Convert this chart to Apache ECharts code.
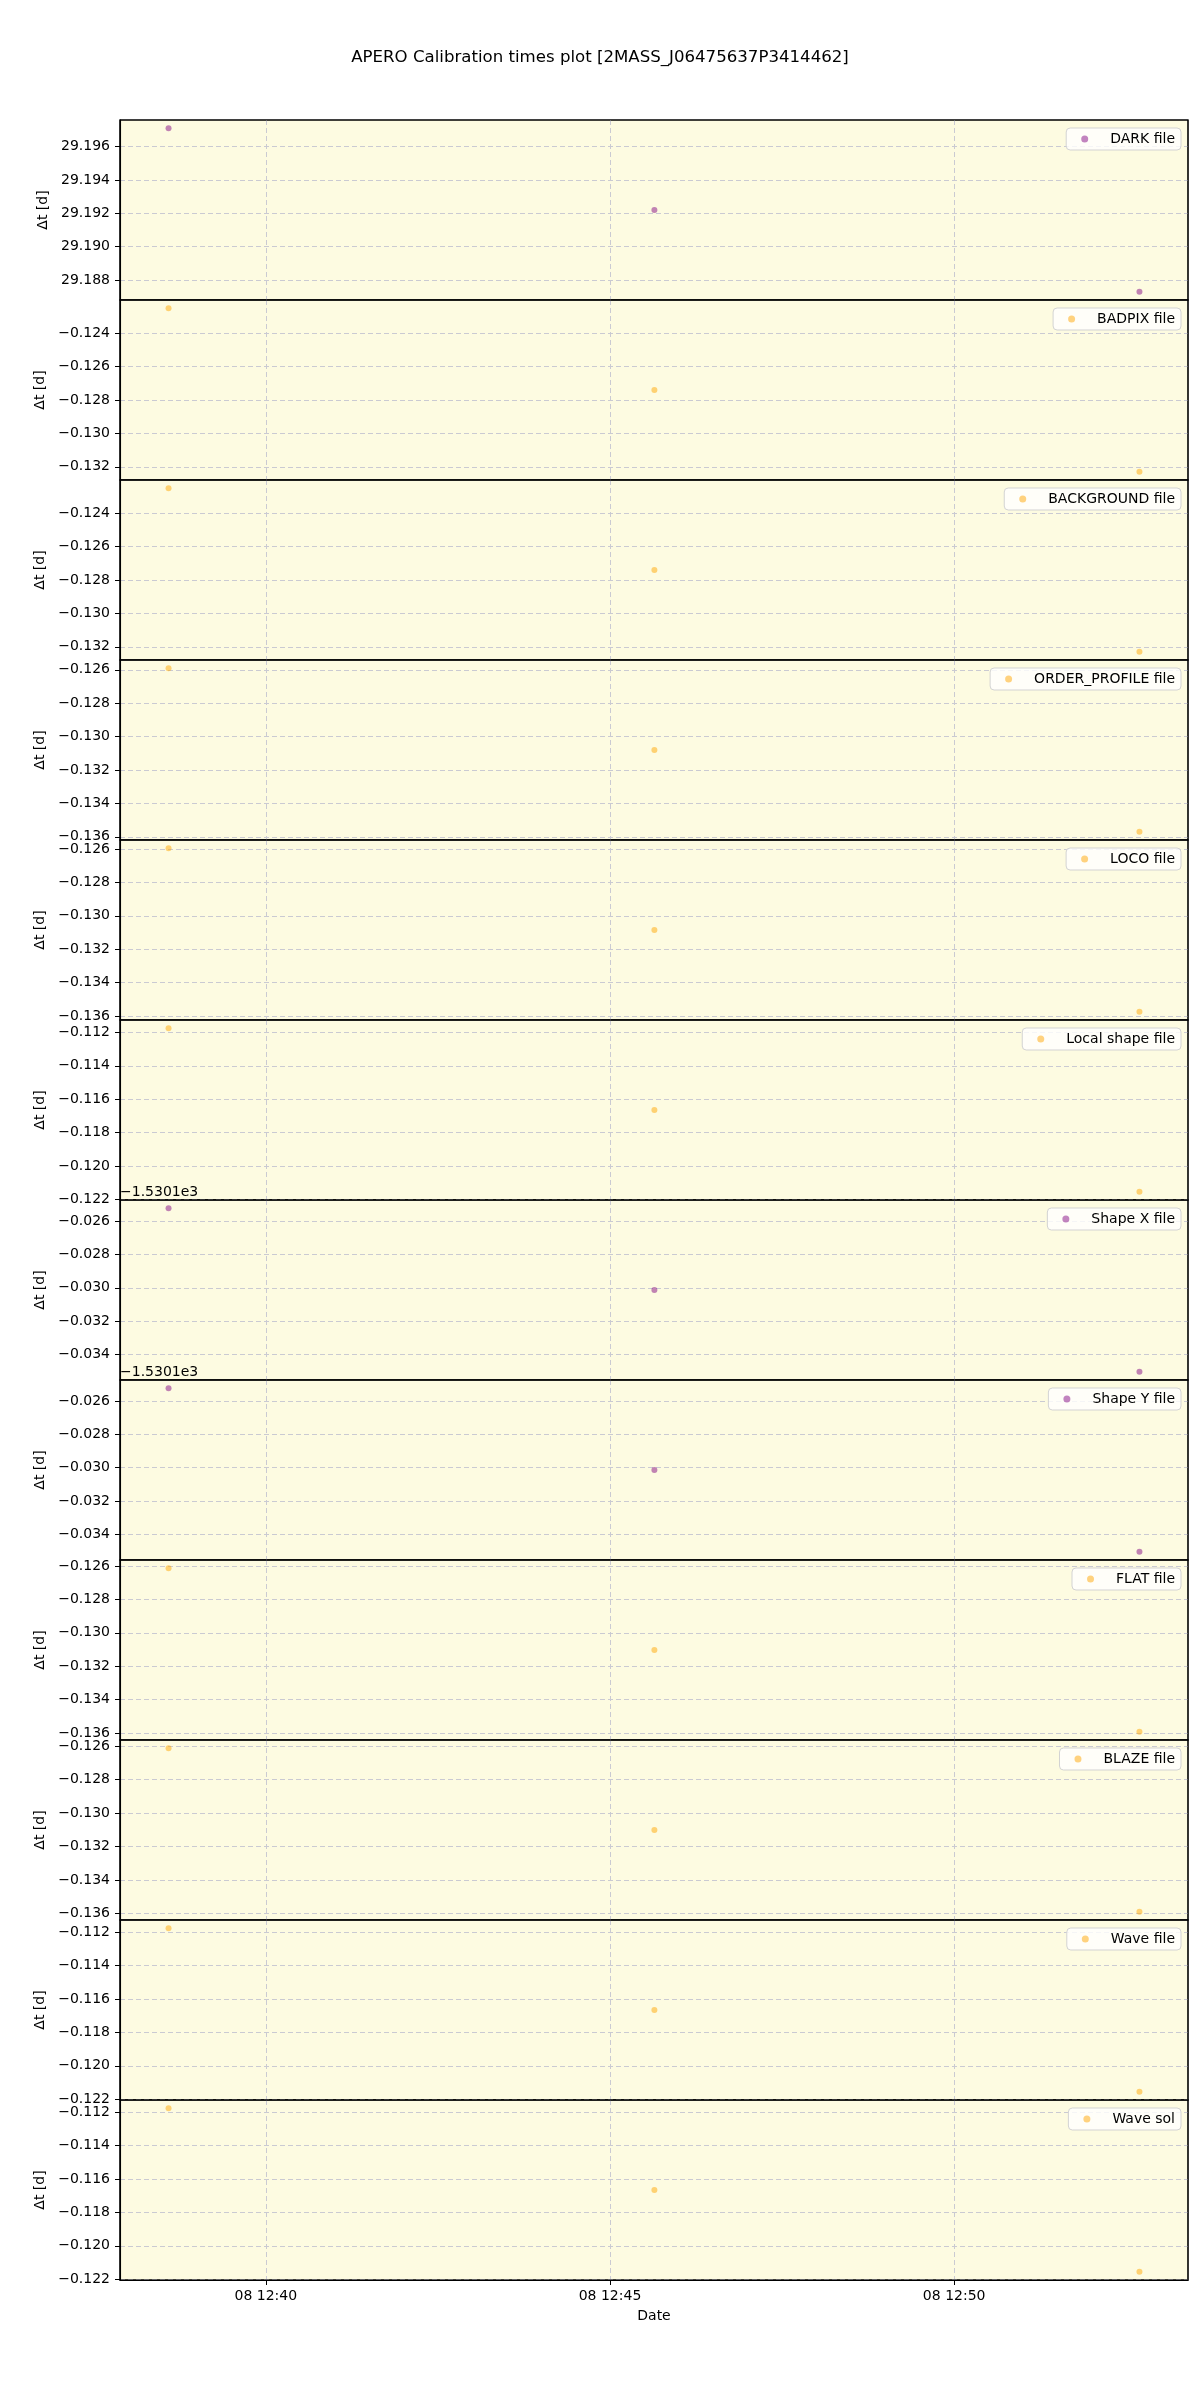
<!DOCTYPE html>
<html>
<head>
<meta charset="utf-8">
<script src="https://cdn.jsdelivr.net/npm/echarts@6/dist/echarts.min.js"></script>
<style>
html,body{margin:0;padding:0;background:#fff;}
#chart{width:1200px;height:2400px;}
</style>
</head>
<body>
<div id="chart"></div>
<script>
// ---- data ----
const times = ['2020-01-08T12:38:35.2Z', '2020-01-08T12:45:38.7Z', '2020-01-08T12:52:41.5Z'];
const panelNames = ['DARK file', 'BADPIX file', 'BACKGROUND file', 'ORDER_PROFILE file', 'LOCO file',
  'Local shape file', 'Shape X file', 'Shape Y file', 'FLAT file', 'BLAZE file', 'Wave file', 'Wave sol'];
const darkFile = [29.1971, 29.1922, 29.1873];
const badpixFile = [-0.1225, -0.1274, -0.1323];
const backgroundFile = [-0.1225, -0.1274, -0.1323];
const orderProfileFile = [-0.1259, -0.1308, -0.1357];
const locoFile = [-0.12595, -0.13085, -0.13575];
const localShapeFile = [-0.11175, -0.11665, -0.12155];
const shapeXFile = [-1530.12523, -1530.13013, -1530.13503];
const shapeYFile = [-1530.12524, -1530.13014, -1530.13504];
const flatFile = [-0.12613, -0.13103, -0.13593];
const blazeFile = [-0.12611, -0.13101, -0.13591];
const waveFile = [-0.11176, -0.11666, -0.12156];
const waveSol = [-0.11176, -0.11666, -0.12156];
const panelValues = [darkFile, badpixFile, backgroundFile, orderProfileFile, locoFile, localShapeFile,
  shapeXFile, shapeYFile, flatFile, blazeFile, waveFile, waveSol];
// axis offset shown as matplotlib offset text (0 = none)
const axisOffsets = [0, 0, 0, 0, 0, 0, -1530.1, -1530.1, 0, 0, 0, 0];
const offsetLabels = ['', '', '', '', '', '', '−1.5301e3', '−1.5301e3', '', '', '', ''];
const yTickStep = 0.002;
const xTickStepMs = 300000;
const markerKinds = ['purple', 'orange', 'orange', 'orange', 'orange', 'orange', 'purple', 'purple', 'orange', 'orange', 'orange', 'orange'];
const titleText = 'APERO Calibration times plot [2MASS_J06475637P3414462]';

// ---- layout / style ----
const FONT = 'DejaVu Sans';
const PLOT_LEFT = 120, PLOT_RIGHT = 12, PLOT_TOP = 120, PANEL_H = 180, CHART_W = 1200;
const COLORS = {purple: 'rgba(128,0,128,0.6)', orange: 'rgba(255,165,0,0.62)'};
const BG = 'rgb(253,251,225)';
const GRIDLINE = {show: true, lineStyle: {color: '#cacad2', width: 1, type: [5, 3]}};

const tms = times.map(t => Date.parse(t));
function padExtent(arr) {
  const lo = Math.min(...arr), hi = Math.max(...arr), m = (hi - lo) * 0.05;
  return [lo - m, hi + m];
}
function innerTicks(ext, step) {
  const out = [];
  for (let k = Math.ceil(ext[0] / step); k <= Math.floor(ext[1] / step); k++) out.push(+(k * step).toFixed(6));
  return out;
}
const xExt = padExtent(tms);
const xTicks = innerTicks(xExt, xTickStepMs);
const n = panelNames.length;
function two(v) { return (v < 10 ? '0' : '') + v; }

const grids = [], xAxes = [], yAxes = [], series = [], legends = [], graphics = [];
for (let i = 0; i < n; i++) {
  const top = PLOT_TOP + PANEL_H * i;
  const last = i === n - 1;
  grids.push({left: PLOT_LEFT, right: PLOT_RIGHT, top: top, height: PANEL_H, show: true,
    backgroundColor: BG, borderColor: '#000', borderWidth: 1.1, containLabel: false});
  xAxes.push({
    type: 'value', gridIndex: i, min: xExt[0], max: xExt[1], splitNumber: 3,
    axisLine: {show: last, lineStyle: {color: '#000', width: 1.1}},
    axisTick: {show: last, length: 5, lineStyle: {color: '#000'}, customValues: xTicks},
    splitLine: GRIDLINE,
    axisLabel: {show: last, margin: 9, color: '#000', fontSize: 14, fontFamily: FONT,
      customValues: xTicks,
      formatter: v => { const d = new Date(v); return two(d.getUTCDate()) + ' ' + two(d.getUTCHours()) + ':' + two(d.getUTCMinutes()); }},
    name: last ? 'Date' : '', nameLocation: 'middle', nameGap: 29,
    nameTextStyle: {color: '#000', fontSize: 14, fontFamily: FONT}
  });
  const yExt = padExtent(panelValues[i]);
  const yTicks = innerTicks(yExt, yTickStep);
  const off = axisOffsets[i];
  yAxes.push({
    type: 'value', gridIndex: i, min: yExt[0], max: yExt[1], splitNumber: 5,
    axisLine: {show: true, lineStyle: {color: '#000', width: 1.1}},
    axisTick: {show: true, length: 5, lineStyle: {color: '#000'}, customValues: yTicks},
    splitLine: GRIDLINE,
    axisLabel: {margin: 10, color: '#000', fontSize: 14, fontFamily: FONT,
      customValues: yTicks,
      formatter: v => (v - off).toFixed(3).replace('-', '−')},
    name: 'Δt [d]', nameLocation: 'middle', nameGap: 66,
    nameTextStyle: {color: '#000', fontSize: 14, fontFamily: FONT}
  });
  series.push({
    type: 'scatter', name: panelNames[i], xAxisIndex: i, yAxisIndex: i,
    symbol: 'circle', symbolSize: 6,
    itemStyle: {color: COLORS[markerKinds[i]]},
    data: tms.map((t, k) => [t, panelValues[i][k]]),
    silent: true
  });
  legends.push({
    data: [panelNames[i]], right: 19, top: top + 8, orient: 'horizontal',
    icon: 'circle', itemWidth: 7, itemHeight: 7, selectedMode: false,
    backgroundColor: 'rgba(255,255,255,0.8)', borderColor: '#d3d3d3', borderWidth: 1, borderRadius: 4,
    padding: [4, 6, 4, 15],
    textStyle: {color: '#000', fontSize: 14, fontFamily: FONT, padding: [0, 0, 0, 17]}
  });
  // solid panel frame drawn above the dashed grid lines
  graphics.push({type: 'rect', silent: true, z: 50,
    shape: {x: PLOT_LEFT, y: top, width: CHART_W - PLOT_LEFT - PLOT_RIGHT, height: PANEL_H},
    style: {fill: null, stroke: '#000', lineWidth: 1.1}});
  if (offsetLabels[i]) {
    graphics.push({type: 'text', left: PLOT_LEFT, top: top - 15, z: 100,
      style: {text: offsetLabels[i], fill: '#000', font: '14px "DejaVu Sans"'}});
  }
}

const chart = echarts.init(document.getElementById('chart'), null, {renderer: 'canvas'});
chart.setOption({
  animation: false,
  backgroundColor: '#fff',
  title: {text: titleText, left: 'center', top: 49, padding: 0,
    textStyle: {color: '#000', fontSize: 16.6, fontWeight: 'normal', fontFamily: FONT}},
  grid: grids, xAxis: xAxes, yAxis: yAxes, series: series, legend: legends, graphic: graphics
});
</script>
</body>
</html>
